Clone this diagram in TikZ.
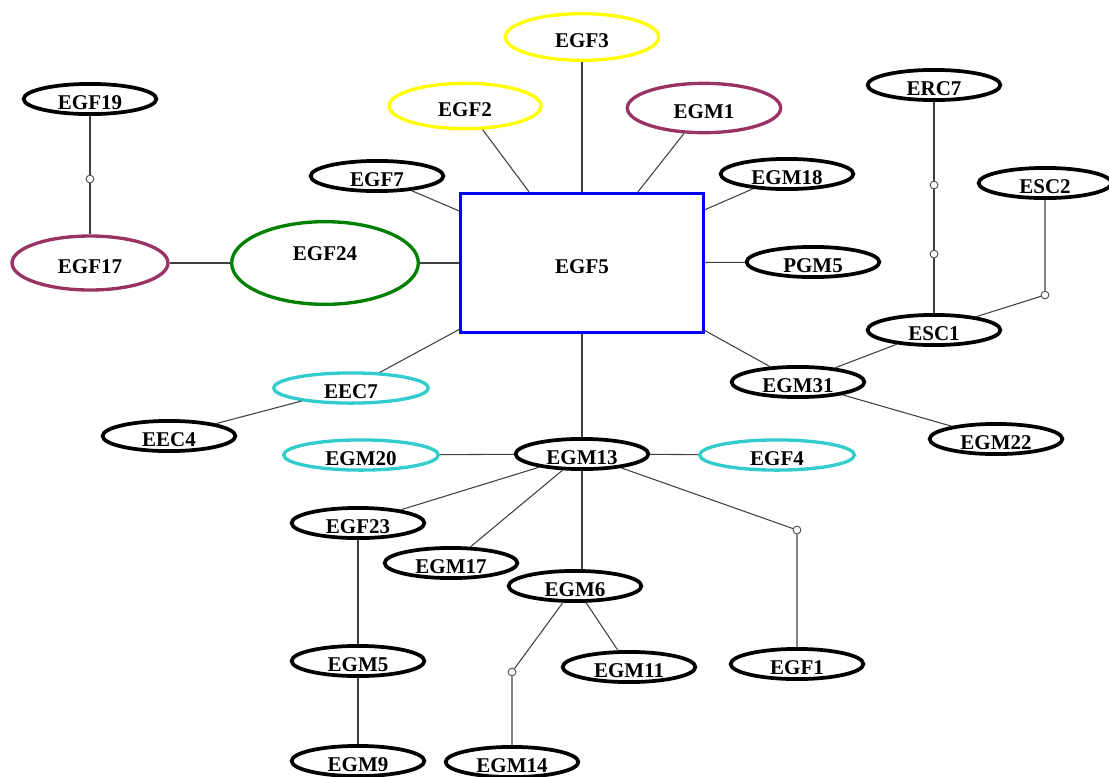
\documentclass[tikz,border=0pt]{standalone}
\usepackage{fontspec}
\setmainfont{Liberation Serif}
\usetikzlibrary{shapes.geometric}

\definecolor{hubyellow}{RGB}{255,255,0}
\definecolor{hubpurple}{RGB}{153,51,102}
\definecolor{hubgreen}{RGB}{0,128,0}
\definecolor{hubcyan}{RGB}{51,204,204}

\begin{document}
\begin{tikzpicture}[x=0.75pt,y=-0.75pt,
  ent/.style={ellipse,draw=black,line width=2.8pt,minimum width=99.5pt,minimum height=19.5pt,inner sep=0pt,
    font=\bfseries\fontsize{15.75}{18}\selectfont,text height=16pt,text depth=0pt},
  hub/.style={ent,line width=2.5pt,minimum width=115pt,minimum height=35pt},
  flat/.style={ent,line width=2.5pt,draw=hubcyan,minimum width=116pt,minimum height=21pt},
  core/.style={rectangle,draw=blue,line width=2.7pt,minimum width=182pt,minimum height=104pt,inner sep=0pt,
    font=\bfseries\fontsize{15.75}{18}\selectfont,text height=15.5pt,text depth=0pt},
  rel/.style={draw=black!75,line width=0.8pt},
  junc/.style={circle,draw=black!70,fill=white,line width=0.7pt,minimum size=5.8pt,inner sep=0pt}]
\useasboundingbox (0,0) rectangle (1109,776);
\node (egf5) [core] at (582,263) {EGF5};
\node (egf3) [hub,draw=hubyellow] at (582,37) {EGF3};
\node (egf2) [hub,draw=hubyellow,minimum width=114pt,minimum height=34pt] at (465,106) {EGF2};
\node (egm1) [hub,draw=hubpurple,minimum height=37pt] at (704,108) {EGM1};
\node (egf17) [hub,draw=hubpurple,minimum width=117pt,minimum height=40.5pt] at (90,263) {EGF17};
\node (egf24) [hub,draw=hubgreen,minimum width=140pt,minimum height=62pt,text height=10.4pt,text depth=13.5pt] at (325,263) {EGF24};
\node (egf19) [ent] at (90,99) {EGF19};
\node (egf7) [ent] at (377,176) {EGF7};
\node (egm18) [ent] at (787,174) {EGM18};
\node (erc7) [ent] at (934,85) {ERC7};
\node (esc2) [ent] at (1045,183) {ESC2};
\node (pgm5) [ent] at (813,262) {PGM5};
\node (esc1) [ent] at (934,330) {ESC1};
\node (eec7) [flat] at (351,388) {EEC7};
\node (egm31) [ent] at (798,382) {EGM31};
\node (eec4) [ent] at (169,436) {EEC4};
\node (egm22) [ent] at (996,439) {EGM22};
\node (egm20) [flat] at (361,455) {EGM20};
\node (egm13) [ent] at (582,454) {EGM13};
\node (egf4) [flat] at (777,455) {EGF4};
\node (egf23) [ent] at (358,523) {EGF23};
\node (egm17) [ent] at (451,563) {EGM17};
\node (egm6) [ent] at (575,586) {EGM6};
\node (egm5) [ent] at (358,661) {EGM5};
\node (egm11) [ent] at (629,667) {EGM11};
\node (egf1) [ent] at (797,664) {EGF1};
\node (egm9) [ent] at (358,761) {EGM9};
\node (egm14) [ent] at (512,762) {EGM14};
\node (j1) [junc] at (90,179) {};
\node (j2) [junc] at (934,185) {};
\node (j3) [junc] at (934,254) {};
\node (j4) [junc] at (1045,295) {};
\node (j5) [junc] at (797,530) {};
\node (j6) [junc] at (512,672) {};
\draw[rel] (egf5) -- (egf3);
\draw[rel] (egf5) -- (egf2);
\draw[rel] (egf5) -- (egm1);
\draw[rel] (egf5) -- (egf7);
\draw[rel] (egf5) -- (egm18);
\draw[rel] (egf5) -- (egf24);
\draw[rel] (egf5) -- (pgm5);
\draw[rel] (egf5) -- (eec7);
\draw[rel] (egf5) -- (egm31);
\draw[rel] (egf5) -- (egm13);
\draw[rel] (egf24) -- (egf17);
\draw[rel] (egf17) -- (j1) -- (egf19);
\draw[rel] (eec7) -- (eec4);
\draw[rel] (egm31) -- (esc1);
\draw[rel] (egm31) -- (egm22);
\draw[rel] (esc1) -- (j3) -- (j2) -- (erc7);
\draw[rel] (esc1) -- (j4) -- (esc2);
\draw[rel] (egm13) -- (egm20);
\draw[rel] (egm13) -- (egf4);
\draw[rel] (egm13) -- (egf23);
\draw[rel] (egm13) -- (egm17);
\draw[rel] (egm13) -- (egm6.north -| egm13);
\draw[rel] (egm13) -- (j5) -- (egf1);
\draw[rel] (egf23) -- (egm5);
\draw[rel] (egm5) -- (egm9);
\draw[rel] (egm6) -- (egm11);
\draw[rel] (egm6) -- (j6) -- (egm14);
\end{tikzpicture}
\end{document}
